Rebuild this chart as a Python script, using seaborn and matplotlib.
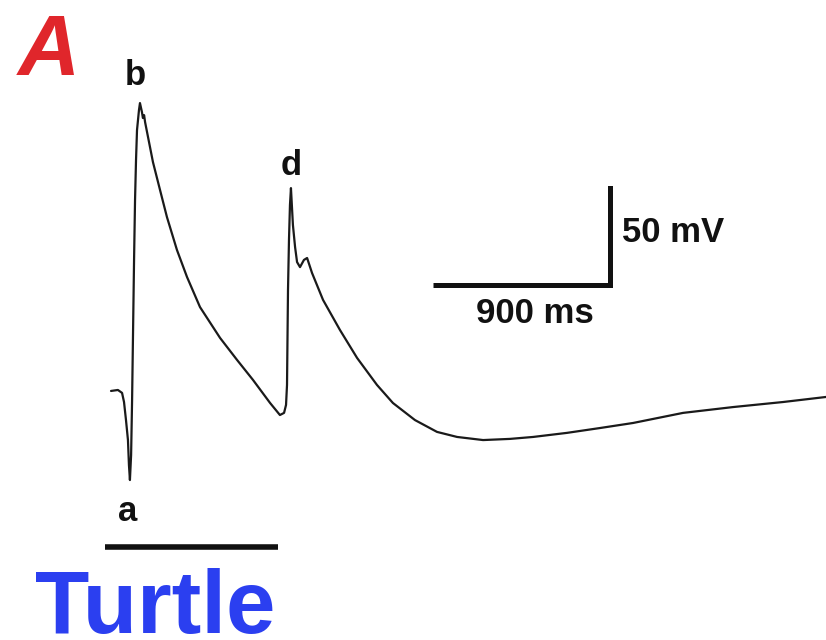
import matplotlib
matplotlib.use("Agg")
import matplotlib.pyplot as plt
import seaborn as sns
import pandas as pd

sns.set_theme(style="white")
plt.rcParams['font.family'] = ['Liberation Sans', 'DejaVu Sans']

# Membrane potential trace (time in ms, voltage in mV relative to rest)
time_ms = [-5, 30, 51, 61, 71, 81, 86, 91, 97, 102, 107, 112, 117, 122, 127, 137, 142, 152,
           157, 163, 168, 208, 244, 279, 330, 381, 447, 549, 635, 716, 803, 853, 874, 884,
           889, 894, 899, 904, 909, 919, 930, 940, 955, 975, 991, 1016, 1072, 1158, 1245,
           1346, 1427, 1539, 1651, 1753, 1885, 2022, 2139, 2311, 2479, 2647, 2901, 3155,
           3409, 3627]
volt_mV = [-0.5, 0.0, -1.5, -6.2, -15.5, -25.8, -38.6, -46.4, -33.5, -5.2, 30.9, 66.9, 97.9,
           118.5, 133.9, 144.2, 147.8, 143.2, 140.1, 141.6, 138.0, 117.4, 103.0, 89.1, 72.1,
           58.2, 42.7, 26.8, 15.5, 5.2, -6.7, -12.9, -11.8, -7.7, 2.6, 51.5, 77.3, 95.3,
           104.0, 85.0, 73.6, 65.9, 63.3, 67.0, 68.0, 60.3, 46.4, 30.9, 16.5, 2.6, -6.7,
           -15.5, -21.6, -24.2, -25.8, -25.2, -24.2, -22.1, -19.6, -17.0, -11.8, -8.8, -6.2,
           -3.6]

# Point labels
point_labels = ['a', 'b', 'd']
label_t = [81, 117, 909]
label_v = [-62.8, 162.0, 115.4]

# Scale bars
scale_t_ms = 900
scale_v_mV = 50
scale_origin = (2531, 54.1)
stim_bar = (-36, 843, -80.9)

df = pd.DataFrame({'t': time_ms, 'v': volt_mV})

fig = plt.figure(figsize=(8.26, 6.40), dpi=100)
ax = fig.add_axes([0, 0, 1, 1])
sns.lineplot(data=df, x='t', y='v', sort=False, estimator=None, color='#1a1a1a',
             linewidth=1.6, ax=ax)
ax.set_xlim(-569, 3627)
ax.set_ylim(-128.8, 200.9)
ax.axis('off')

# Labels a, b, d
for lab, t, v in zip(point_labels, label_t, label_v):
    ax.text(t, v, lab, ha='center', va='center', fontsize=25, fontweight='bold', color='#111')

# Scale bar
x0, y0 = scale_origin
ax.plot([x0 - scale_t_ms, x0], [y0, y0], color='#111', linewidth=3.6, solid_capstyle='butt')
ax.plot([x0, x0], [y0, y0 + scale_v_mV], color='#111', linewidth=3.6, solid_capstyle='projecting')
ax.text(x0 + 60, y0 + 27, '50 mV', ha='left', va='center', fontsize=25, fontweight='bold', color='#111')
ax.text(x0 - 385, y0 - 14.5, '900 ms', ha='center', va='center', fontsize=25, fontweight='bold', color='#111')

# Stimulus bar
ax.plot([stim_bar[0], stim_bar[1]], [stim_bar[2], stim_bar[2]], color='#111', linewidth=4,
        solid_capstyle='butt')

fig.text(0.022, 0.883, 'A', ha='left', va='baseline', fontsize=62, fontweight='bold',
         fontstyle='italic', color='#e0262b')
fig.text(0.042, 0.011, 'Turtle', ha='left', va='baseline', fontsize=64, fontweight='bold',
         color='#2b3ff0')

fig.savefig('out.png', dpi=100)
